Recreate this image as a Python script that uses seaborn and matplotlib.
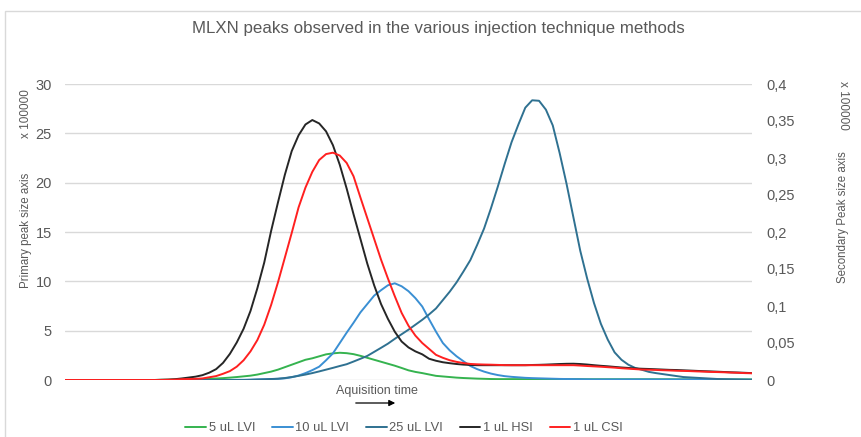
import numpy as np
import pandas as pd
import matplotlib
matplotlib.use("Agg")
import matplotlib.pyplot as plt
from matplotlib.patches import Rectangle, FancyArrowPatch
import seaborn as sns

# Acquisition time index (arbitrary units)
time = list(range(0, 101))

# Primary axis series (x 100000)
lvi_5 = [0] * 14 + [
    0.02, 0.03, 0.04, 0.05, 0.06, 0.08, 0.1, 0.12, 0.15, 0.19,      # 14-23
    0.24, 0.3, 0.37, 0.44, 0.55, 0.7, 0.85, 1.05, 1.3, 1.55,        # 24-33
    1.8, 2.05, 2.2, 2.4, 2.6, 2.7, 2.76, 2.72, 2.62, 2.45,          # 34-43
    2.25, 2.05, 1.85, 1.65, 1.45, 1.22, 0.98, 0.82, 0.7, 0.56,      # 44-53
    0.42, 0.36, 0.3, 0.24, 0.2, 0.17, 0.14, 0.12, 0.1, 0.09,        # 54-63
    0.09, 0.09, 0.09, 0.09, 0.09, 0.09, 0.09, 0.09, 0.09, 0.09,     # 64-73
    0.09, 0.09, 0.08, 0.08, 0.08, 0.08, 0.08, 0.08, 0.08, 0.08,     # 74-83
    0.08, 0.08, 0.08, 0.08, 0.08, 0.07, 0.07, 0.07, 0.07, 0.07,     # 84-93
    0.07, 0.07, 0.07, 0.07, 0.07, 0.07, 0.07]                       # 94-100
lvi_10 = [0] * 24 + [
    0.01, 0.02, 0.02, 0.03, 0.05, 0.07, 0.09, 0.12, 0.17, 0.28,     # 24-33
    0.45, 0.7, 1.0, 1.35, 2.0, 2.7, 3.75, 4.8, 5.8, 6.85,           # 34-43
    7.7, 8.55, 9.1, 9.6, 9.8, 9.5, 9.0, 8.3, 7.45, 6.15,            # 44-53
    4.9, 3.75, 3.0, 2.4, 1.9, 1.42, 1.1, 0.85, 0.65, 0.5,           # 54-63
    0.39, 0.32, 0.27, 0.22, 0.19, 0.17, 0.15, 0.13, 0.11, 0.1,      # 64-73
    0.09, 0.08, 0.07, 0.06, 0.06, 0.06, 0.06, 0.06, 0.06, 0.06,     # 74-83
    0.06, 0.06, 0.05, 0.05, 0.05, 0.05, 0.05, 0.05, 0.05, 0.04,     # 84-93
    0.04, 0.04, 0.04, 0.04, 0.04, 0.04, 0.04]                       # 94-100
lvi_25 = [0] * 27 + [
    0.02, 0.05, 0.07, 0.1, 0.13, 0.2, 0.3,                          # 27-33
    0.42, 0.55, 0.7, 0.87, 1.05, 1.23, 1.42, 1.6, 1.87, 2.15,       # 34-43
    2.44, 2.85, 3.26, 3.68, 4.17, 4.64, 5.1, 5.6, 6.1, 6.65,        # 44-53
    7.25, 8.1, 8.95, 9.9, 11.0, 12.15, 13.7, 15.35, 17.4, 19.6,     # 54-63
    21.9, 24.1, 25.9, 27.6, 28.35, 28.3, 27.4, 25.8, 23.0, 19.9,    # 64-73
    16.5, 13.1, 10.3, 7.8, 5.7, 4.1, 2.8, 2.05, 1.55, 1.22,         # 74-83
    1.03, 0.82, 0.7, 0.6, 0.5, 0.4, 0.3, 0.26, 0.22, 0.18,          # 84-93
    0.14, 0.1, 0.08, 0.06, 0.04, 0.02, 0.0]                         # 94-100

# Secondary axis series (x 100000)
hsi_1 = [0] * 14 + [
    0.0003, 0.0005, 0.0011, 0.0021, 0.0033, 0.0045, 0.0065, 0.0099, 0.0147, 0.0231,  # 14-23
    0.0353, 0.0507, 0.0693, 0.0933, 0.124, 0.1587, 0.2013, 0.24, 0.2773, 0.3093,     # 24-33
    0.3307, 0.3453, 0.3513, 0.3467, 0.336, 0.3173, 0.2907, 0.2587, 0.224, 0.1907,    # 34-43
    0.1573, 0.128, 0.1027, 0.0827, 0.0653, 0.052, 0.044, 0.0387, 0.0347, 0.0287,     # 44-53
    0.026, 0.024, 0.0227, 0.0216, 0.0208, 0.0203, 0.02, 0.02, 0.02, 0.02,            # 54-63
    0.02, 0.02, 0.02, 0.02, 0.0203, 0.0205, 0.0208, 0.0212, 0.0216, 0.0219,          # 64-73
    0.022, 0.0216, 0.0209, 0.02, 0.0192, 0.0185, 0.0177, 0.0169, 0.0163, 0.0156,     # 74-83
    0.0152, 0.0149, 0.0145, 0.0141, 0.0137, 0.0135, 0.0131, 0.0127, 0.0123, 0.0119,  # 84-93
    0.0116, 0.0112, 0.0108, 0.0104, 0.0101, 0.0097, 0.0093]                          # 94-100
csi_1 = [0] * 15 + [
    0.0003, 0.0005, 0.0011, 0.0013, 0.0016, 0.0021, 0.0037, 0.0053, 0.0084,          # 15-23
    0.012, 0.018, 0.0267, 0.0387, 0.054, 0.0747, 0.1013, 0.132, 0.1653, 0.1987,      # 24-33
    0.2333, 0.26, 0.2813, 0.2973, 0.3053, 0.3072, 0.3033, 0.2933, 0.2753, 0.2467,    # 34-43
    0.2187, 0.1907, 0.1627, 0.1373, 0.1133, 0.0907, 0.0733, 0.06, 0.05, 0.042,       # 44-53
    0.034, 0.03, 0.0267, 0.0245, 0.0229, 0.0217, 0.0212, 0.0209, 0.0207, 0.0204,     # 54-63
    0.0201, 0.02, 0.02, 0.02, 0.02, 0.02, 0.02, 0.02, 0.02, 0.02,                    # 64-73
    0.02, 0.0195, 0.0189, 0.0184, 0.0179, 0.0173, 0.0167, 0.0159, 0.0153, 0.0147,    # 74-83
    0.0141, 0.0139, 0.0136, 0.0132, 0.0129, 0.0125, 0.0123, 0.012, 0.0116, 0.0113,   # 84-93
    0.0109, 0.0107, 0.0104, 0.01, 0.0097, 0.0093, 0.0091]                            # 94-100

primary_names = ["5 uL LVI", "10 uL LVI", "25 uL LVI"]
secondary_names = ["1 uL HSI", "1 uL CSI"]
colors = {"5 uL LVI": "#35b34f", "10 uL LVI": "#3a8fd3", "25 uL LVI": "#2f7191",
          "1 uL HSI": "#262626", "1 uL CSI": "#ff2020"}

primary_ticks = [0, 5, 10, 15, 20, 25, 30]
secondary_ticks = [0, 0.05, 0.1, 0.15, 0.2, 0.25, 0.3, 0.35, 0.4]

df_p = pd.DataFrame({"time": time * 3,
                     "value": lvi_5 + lvi_10 + lvi_25,
                     "series": sum([[n] * len(time) for n in primary_names], [])})
df_s = pd.DataFrame({"time": time * 2,
                     "value": hsi_1 + csi_1,
                     "series": sum([[n] * len(time) for n in secondary_names], [])})

sns.set_theme(style="white")
plt.rcParams["font.family"] = ["Liberation Sans", "DejaVu Sans"]
text_col = "#595959"

fig = plt.figure(figsize=(8.61, 4.37), dpi=100)
ax = fig.add_axes([65 / 861, 1 - 380 / 437, (752 - 65) / 861, (380 - 84) / 437])
ax2 = ax.twinx()

sns.lineplot(data=df_p, x="time", y="value", hue="series", palette=colors,
             hue_order=primary_names, ax=ax, linewidth=1.4, legend=False)
sns.lineplot(data=df_s, x="time", y="value", hue="series", palette=colors,
             hue_order=secondary_names, ax=ax2, linewidth=1.4, legend=False)

ax.set_xlim(0, 100)
ax.set_ylim(0, 30)
ax2.set_ylim(0, 0.4)
ax.set_yticks(primary_ticks)
ax.set_yticklabels([str(t) for t in primary_ticks])
ax2.set_yticks(secondary_ticks)
ax2.set_yticklabels(["0" if t == 0 else f"{t:g}".replace(".", ",") for t in secondary_ticks])
ax.set_xticks([])
ax.set_xlabel("")
ax.set_ylabel("")
ax2.set_ylabel("")
ax.yaxis.grid(True, color="#d9d9d9", linewidth=1)
ax.set_axisbelow(True)
for a in (ax, ax2):
    for s in a.spines.values():
        s.set_visible(False)
    a.tick_params(axis="y", length=0, labelsize=10.5, colors=text_col)
ax.tick_params(axis="y", pad=9.4)
ax2.tick_params(axis="y", pad=10.5)

# Chart frame
fig.patches.append(Rectangle((5 / 861, -0.05), 1.0, 1 - 11 / 437 + 0.05,
                             transform=fig.transFigure, fill=False,
                             edgecolor="#d9d9d9", linewidth=1))

fig.text(438 / 861, 1 - 28 / 437, "MLXN peaks observed in the various injection technique methods",
         ha="center", va="center", fontsize=12.2, color=text_col)
fig.text(26 / 861, 1 - 230 / 437, "Primary peak size axis", rotation=90,
         ha="center", va="center", fontsize=8.3, color=text_col)
fig.text(26 / 861, 1 - 114 / 437, "x 100000", rotation=90,
         ha="center", va="center", fontsize=8.5, color=text_col)
fig.text(843 / 861, 1 - 217 / 437, "Secondary Peak size axis", rotation=90,
         ha="center", va="center", fontsize=8.3, color=text_col)
fig.text(843 / 861, 1 - 105 / 437, "x 100000", rotation=-90,
         ha="center", va="center", fontsize=8.5, color=text_col)
fig.text(377 / 861, 1 - 391 / 437, "Aquisition time",
         ha="center", va="center", fontsize=9, color=text_col)
fig.patches.append(FancyArrowPatch((353 / 861, 1 - 403 / 437), (398 / 861, 1 - 403 / 437),
                                   transform=fig.transFigure, arrowstyle="-|>",
                                   mutation_scale=9, color="black", linewidth=0.9))

handles = [plt.Line2D([], [], color=colors[n], linewidth=1.4)
           for n in primary_names + secondary_names]
leg = fig.legend(handles, primary_names + secondary_names, loc="center",
                 bbox_to_anchor=(404 / 861, 1 - 428 / 437), ncol=5, frameon=False,
                 fontsize=9.3, handlelength=1.6, handletextpad=0.2, columnspacing=1.3)
for t in leg.get_texts():
    t.set_color(text_col)

fig.savefig("out.png", dpi=100)
